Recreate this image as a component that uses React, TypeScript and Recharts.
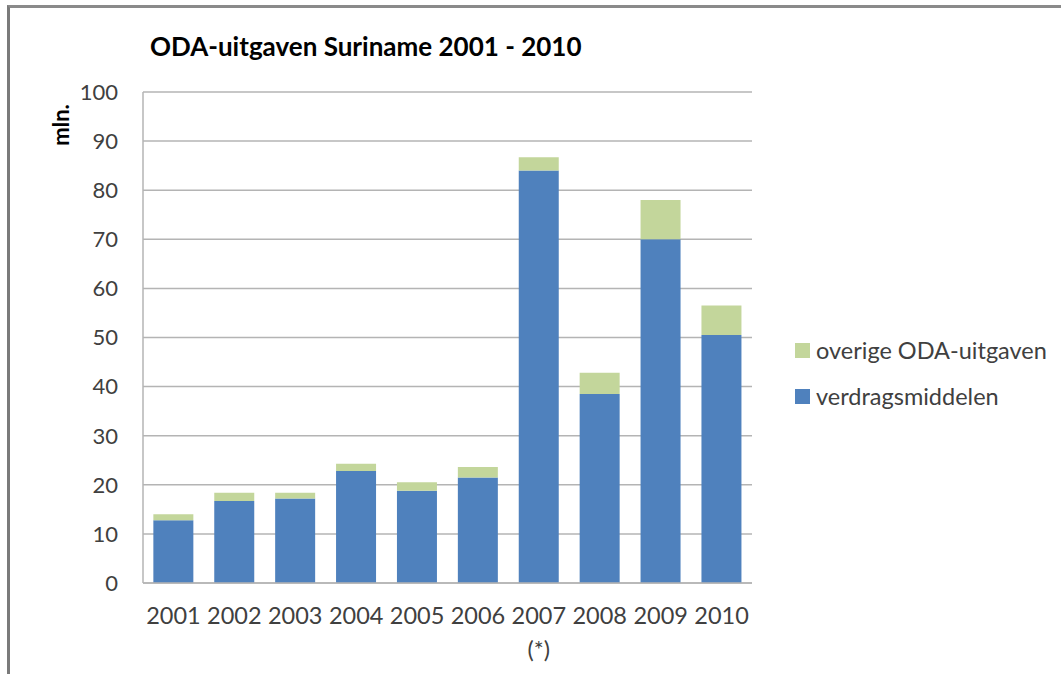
import { BarChart, Bar, XAxis, YAxis, CartesianGrid } from 'recharts';

const years = ['2001', '2002', '2003', '2004', '2005', '2006', '2007', '2008', '2009', '2010'];
const yearNotes = ['', '', '', '', '', '', '(*)', '', '', ''];
const verdragsmiddelen = [12.8, 16.7, 17.2, 22.8, 18.8, 21.5, 84, 38.5, 70, 50.5];
const overige = [1.2, 1.7, 1.2, 1.5, 1.7, 2.1, 2.7, 4.3, 8, 6];
const yTicks = [0, 10, 20, 30, 40, 50, 60, 70, 80, 90, 100];

const BLUE = '#4F81BD';
const GREEN = '#C3D69B';
const FONT = 'Lato, "Open Sans", sans-serif';

const data = years.map((year, i) => ({
  year,
  verdragsmiddelen: verdragsmiddelen[i],
  overige: overige[i],
}));

const legendItems = [
  { label: 'overige ODA-uitgaven', color: GREEN },
  { label: 'verdragsmiddelen', color: BLUE },
];

function YearTick(props: any) {
  const { x, y, payload, index } = props;
  const note = yearNotes[index];
  return (
    <g transform={`translate(${x},${y})`}>
      <text x={0} y={0} dy={33} textAnchor="middle" fill="#404040" fontSize={23.5} fontFamily={FONT}>
        {payload.value}
      </text>
      {note && (
        <text x={0} y={0} dy={67} textAnchor="middle" fill="#404040" fontSize={23.5} fontFamily={FONT}>
          {note}
        </text>
      )}
    </g>
  );
}

export default function App() {
  return (
    <div style={{ position: 'absolute', left: 0, top: 0, width: 1061, height: 674, background: '#fff', overflow: 'hidden' }}>
      <div
        style={{
          position: 'absolute',
          left: 7,
          top: 5,
          width: 1100,
          height: 700,
          borderLeft: '3px solid #7a7a7a',
          borderTop: '3px solid #8a8a8a',
        }}
      />
      <div
        style={{
          position: 'absolute',
          left: 150,
          top: 30,
          fontFamily: FONT,
          fontWeight: 'bold',
          fontSize: 26,
          color: '#000',
          whiteSpace: 'nowrap',
        }}
      >
        ODA-uitgaven Suriname 2001 - 2010
      </div>
      <div
        style={{
          position: 'absolute',
          left: 60,
          top: 125,
          transform: 'translate(-50%, -50%) rotate(-90deg)',
          fontFamily: FONT,
          fontWeight: 'bold',
          fontSize: 22,
          color: '#000',
          whiteSpace: 'nowrap',
        }}
      >
        mln.
      </div>
      <BarChart
        width={1061}
        height={674}
        data={data}
        margin={{ top: 92, right: 309, bottom: 31, left: 83 }}
        barCategoryGap="17%"
        style={{ position: 'absolute', left: 0, top: 0 }}
      >
        <CartesianGrid vertical={false} stroke="#b4b4b4" strokeWidth={1.5} />
        <XAxis
          dataKey="year"
          tick={<YearTick />}
          tickLine={false}
          axisLine={{ stroke: '#b4b4b4', strokeWidth: 1.5 }}
          height={60}
          interval={0}
        />
        <YAxis
          domain={[0, 100]}
          ticks={yTicks}
          tick={{ fill: '#404040', fontSize: 22, fontFamily: FONT }}
          tickLine={false}
          axisLine={{ stroke: '#b4b4b4', strokeWidth: 1.5 }}
          tickMargin={19}
          width={60}
        />
        <Bar dataKey="verdragsmiddelen" stackId="a" fill={BLUE} isAnimationActive={false} />
        <Bar dataKey="overige" stackId="a" fill={GREEN} isAnimationActive={false} />
      </BarChart>
      <div
        style={{
          position: 'absolute',
          left: 795,
          top: 327,
          fontFamily: FONT,
          fontSize: 23.5,
          color: '#404040',
        }}
      >
        {legendItems.map((item) => (
          <div key={item.label} style={{ display: 'flex', alignItems: 'center', height: 46, whiteSpace: 'nowrap' }}>
            <span style={{ width: 15, height: 15, background: item.color, marginRight: 6, display: 'inline-block' }} />
            <span>{item.label}</span>
          </div>
        ))}
      </div>
    </div>
  );
}
